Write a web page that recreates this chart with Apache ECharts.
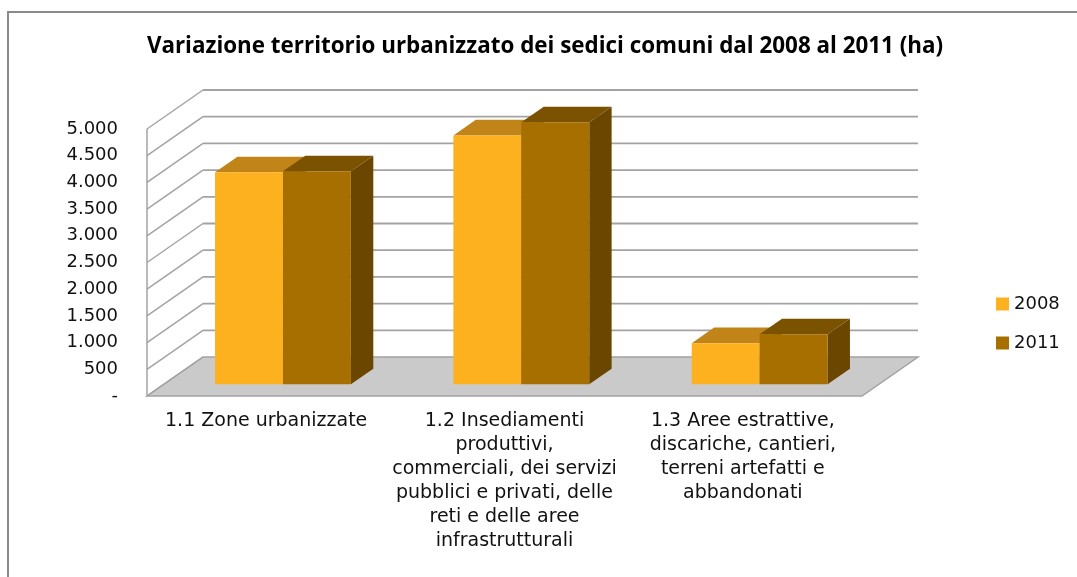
<!DOCTYPE html>
<html>
<head>
<meta charset="utf-8">
<script src="https://cdn.jsdelivr.net/npm/echarts@6/dist/echarts.min.js"></script>
<style>
html,body{margin:0;padding:0;background:#fff;}
#chart{width:1077px;height:577px;}
</style>
</head>
<body>
<div id="chart"></div>
<script>
const titleText = 'Variazione territorio urbanizzato dei sedici comuni dal 2008 al 2011 (ha)';
const categories = [
  '1.1 Zone urbanizzate',
  '1.2 Insediamenti\nproduttivi,\ncommerciali, dei servizi\npubblici e privati, delle\nreti e delle aree\ninfrastrutturali',
  '1.3 Aree estrattive,\ndiscariche, cantieri,\nterreni artefatti e\nabbandonati'
];
const seriesNames = ['2008', '2011'];
const values2008 = [3970, 4660, 770];
const values2011 = [3990, 4905, 935];
const yTicks = [0, 500, 1000, 1500, 2000, 2500, 3000, 3500, 4000, 4500, 5000];

// 3D depth vector (style)
const DX = 56, DY = -39;
const GRID_COLOR = '#a3a3a3';

const chart = echarts.init(document.getElementById('chart'));

function barRenderer(side, front, topC, sideC) {
  return function (params, api) {
    const cat = api.value(0), val = api.value(1);
    const top = api.coord([cat, val]);
    const base = api.coord([cat, 0]);
    const band = api.size([1, 0])[0];
    const W = band * 0.285;
    const ox = DX * 0.3, oy = DY * 0.3, bx = DX * 0.4, by = DY * 0.4;
    const x0 = top[0] + side * W + ox, x1 = x0 + W;
    const yT = top[1] + oy, yB = base[1] + oy;
    return {
      type: 'group',
      children: [
        { type: 'polygon', shape: { points: [[x1, yT], [x1 + bx, yT + by], [x1 + bx, yB + by], [x1, yB]] }, style: { fill: sideC } },
        { type: 'polygon', shape: { points: [[x0, yT], [x1, yT], [x1 + bx, yT + by], [x0 + bx, yT + by]] }, style: { fill: topC } },
        { type: 'rect', shape: { x: x0, y: yT, width: W, height: yB - yT }, style: { fill: front } }
      ]
    };
  };
}

function wallRenderer(params, api) {
  const cs = params.coordSys;
  const v = api.value(1);
  const y = api.coord([0, v])[1];
  const xl = cs.x, xr = cs.x + cs.width;
  const children = [];
  if (v === 0) {
    const yMax = api.coord([0, yTicks[yTicks.length - 1]])[1];
    children.push({ type: 'polygon', shape: { points: [[xl, y], [xr, y], [xr + DX, y + DY], [xl + DX, y + DY]] },
      style: { fill: '#cbcaca', stroke: GRID_COLOR, lineWidth: 1.5 } });
    children.push({ type: 'line', shape: { x1: xl, y1: y, x2: xl, y2: yMax }, style: { stroke: GRID_COLOR, lineWidth: 1.5 } });
  } else {
    children.push({ type: 'line', shape: { x1: xl + DX, y1: y + DY, x2: xr + DX, y2: y + DY }, style: { stroke: GRID_COLOR, lineWidth: 1.8 } });
  }
  children.push({ type: 'line', shape: { x1: xl, y1: y, x2: xl + DX, y2: y + DY }, style: { stroke: GRID_COLOR, lineWidth: 1.5 } });
  return { type: 'group', children: children };
}

const option = {
  backgroundColor: '#ffffff',
  animation: false,
  title: {
    text: titleText,
    left: 540,
    textAlign: 'center',
    top: 31,
    textStyle: { fontFamily: 'Open Sans', fontWeight: 'bold', fontSize: 22.4, color: '#000' }
  },
  legend: {
    data: seriesNames,
    orient: 'vertical',
    left: 996,
    top: 294,
    padding: 0,
    itemWidth: 13,
    itemHeight: 13,
    itemGap: 19,
    icon: 'rect',
    textStyle: { fontFamily: 'DejaVu Sans', fontSize: 18, color: '#111', lineHeight: 20 }
  },
  grid: { left: 147, right: 215, top: 129, bottom: 181 },
  xAxis: {
    type: 'category',
    data: categories,
    axisLine: { show: false },
    axisTick: { show: false },
    axisLabel: { interval: 0, margin: 13, fontFamily: 'DejaVu Sans', fontSize: 19, lineHeight: 24, color: '#111', align: 'center' },
    splitLine: { show: false }
  },
  yAxis: {
    type: 'value',
    min: 0, max: 5000, interval: 500,
    axisLine: { show: false },
    axisTick: { show: false },
    splitLine: { show: false },
    axisLabel: {
      margin: 29,
      padding: [7, 0, 0, 0],
      fontFamily: 'DejaVu Sans', fontSize: 18, color: '#111',
      formatter: function (v) { return v === 0 ? '-' : v.toLocaleString('de-DE'); }
    }
  },
  graphic: [
    { type: 'polyline', shape: { points: [[8, 577], [8, 12], [1077, 12]] }, style: { fill: 'none', stroke: '#8a8a8a', lineWidth: 2 }, silent: true }
  ],
  series: [
    { type: 'custom', name: 'walls', renderItem: wallRenderer, data: yTicks.map(v => [0, v]), encode: { x: 0, y: 1 }, silent: true, z: 1 },
    { type: 'custom', name: seriesNames[0], itemStyle: { color: '#fdb11f' }, renderItem: barRenderer(-1, '#fdb11f', '#c08418', '#8a5c00'),
      data: values2008.map((v, i) => [i, v]), encode: { x: 0, y: 1 }, z: 2 },
    { type: 'custom', name: seriesNames[1], itemStyle: { color: '#a66f00' }, renderItem: barRenderer(0, '#a66f00', '#7b5200', '#6a4600'),
      data: values2011.map((v, i) => [i, v]), encode: { x: 0, y: 1 }, z: 3 }
  ]
};
chart.setOption(option);
</script>
</body>
</html>
